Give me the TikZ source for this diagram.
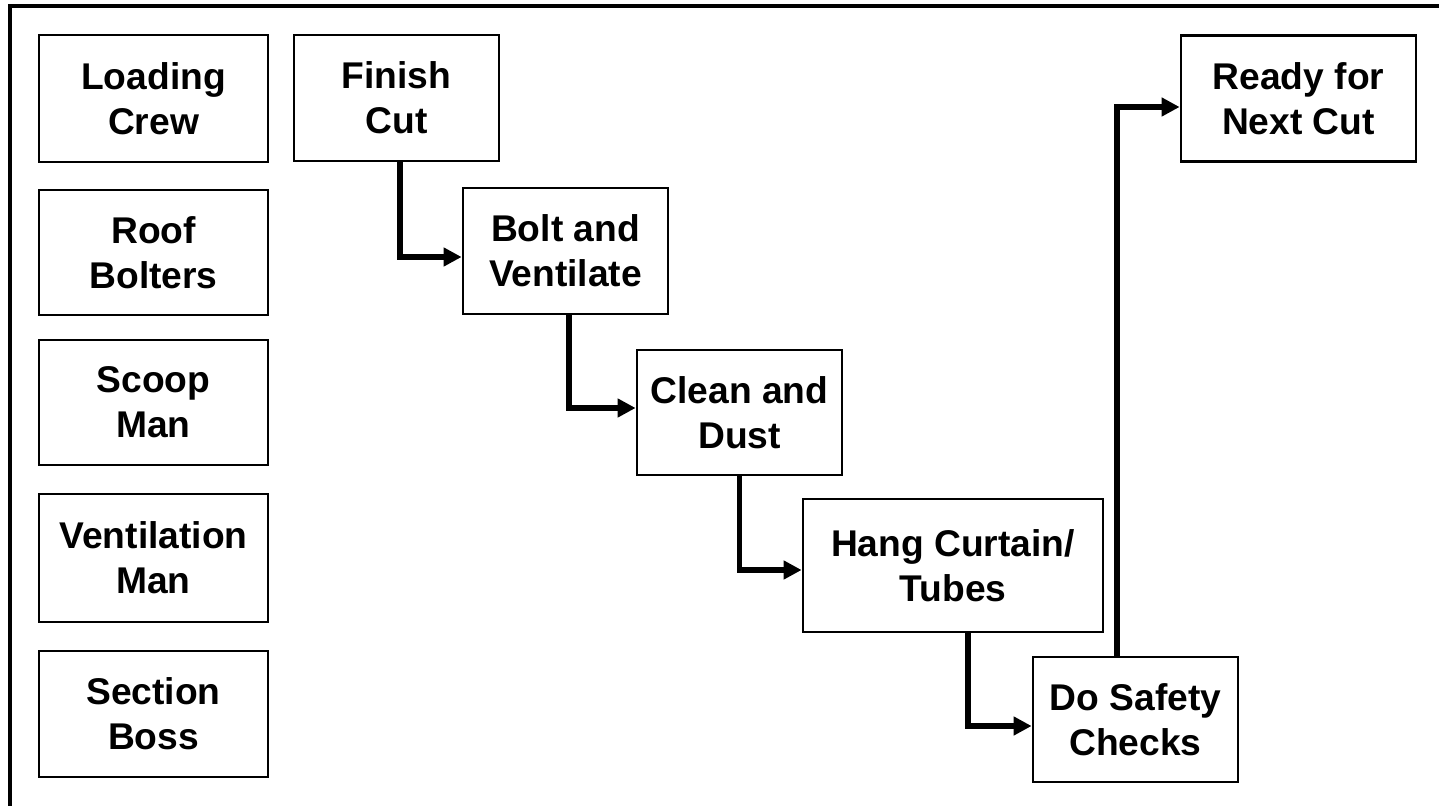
\documentclass[tikz,border=0pt]{standalone}
\usepackage{fontspec}
\setmainfont{Liberation Sans}
\usetikzlibrary{arrows.meta}
\tikzset{
  box/.style={draw=black, line width=1.4pt, fill=white, inner sep=0pt,
    align=center, font=\bfseries\fontsize{18.6}{22.5}\selectfont},
  conn/.style={line width=2.6pt, -{Triangle[length=9pt,width=9pt]}},
  frame/.style={line width=2pt}
}
\begin{document}
\begin{tikzpicture}[x=0.5pt,y=-0.5pt]
\useasboundingbox (0,0) rectangle (1439,806);
\draw[frame] (10,820) -- (10,6.5) -- (1450,6.5);
% left column
\node[box, minimum width=114.5pt, minimum height=63.5pt] (lc) at (153.5,98.5) {Loading\\Crew};
\node[box, minimum width=114.5pt, minimum height=62.5pt] (rb) at (153.5,252.5) {Roof\\Bolters};
\node[box, minimum width=114.5pt, minimum height=62.5pt] (sm) at (153.5,402.5) {Scoop\\Man};
\node[box, minimum width=114.5pt, minimum height=64pt] (vm) at (153.5,558) {Ventilation\\Man};
\node[box, minimum width=114.5pt, minimum height=63pt] (sb) at (153.5,714) {Section\\Boss};
% process
\node[box, minimum width=102.5pt, minimum height=63pt] (fc) at (396.5,98) {Finish\\Cut};
\node[box, minimum width=102.5pt, minimum height=63pt] (bv) at (565.5,251) {Bolt and\\Ventilate};
\node[box, minimum width=102.5pt, minimum height=62.5pt] (cd) at (739.5,412.5) {Clean and\\Dust};
\node[box, minimum width=150pt, minimum height=66.5pt] (hc) at (953,565.5) {Hang Curtain/\\Tubes};
\node[box, minimum width=102.5pt, minimum height=62.5pt] (ds) at (1135.5,719.5) {Do Safety\\Checks};
\node[box, minimum width=117.5pt, minimum height=63pt] (rn) at (1298.5,98.5) {Ready for\\Next Cut};
% connectors
\draw[conn] ([xshift=1.75pt]fc.south) |- ([yshift=-3pt]bv.west);
\draw[conn] ([xshift=1.75pt]bv.south) |- ([yshift=2.25pt]cd.west);
\draw[conn] (cd.south) |- ([yshift=-2.25pt]hc.west);
\draw[conn] ([xshift=7.5pt]hc.south) |- ([yshift=-3.25pt]ds.west);
\draw[conn] ([xshift=-9.25pt]ds.north) |- ([yshift=-4.25pt]rn.west);
\end{tikzpicture}
\end{document}
